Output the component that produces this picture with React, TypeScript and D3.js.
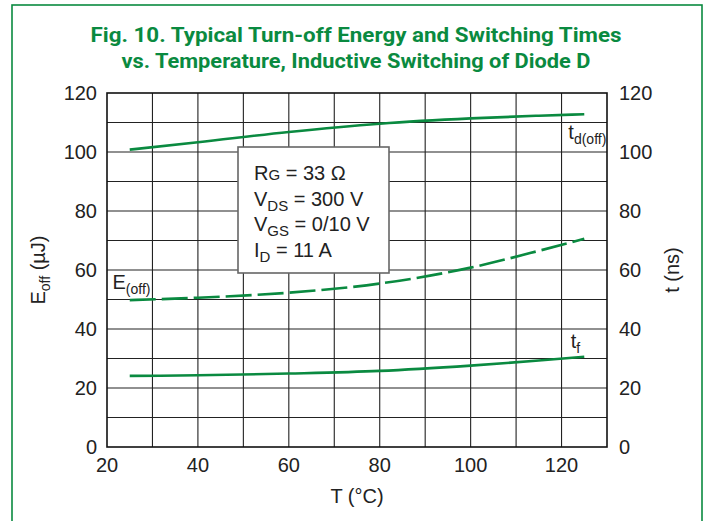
import React, { useRef, useEffect } from 'react';
import * as d3 from 'd3';

// temperature points (°C)
const temps = [25, 40, 60, 80, 100, 115, 125];
// td(off) in ns
const tdOff = [100.8, 103.3, 106.8, 109.6, 111.4, 112.3, 112.8];
// E(off) in µJ (dashed)
const eOff = [49.8, 50.6, 52.3, 55.4, 60.8, 66.5, 70.6];
// tf in ns
const tf = [24.1, 24.3, 24.9, 25.8, 27.6, 29.3, 30.6];

const xTicks = [20, 40, 60, 80, 100, 120];
const yTicks = [0, 20, 40, 60, 80, 100, 120];

const GREEN = '#0a8a40';
const FONT = '"Liberation Sans", Arial, sans-serif';

const App = () => {
  const svgRef = useRef(null);

  useEffect(() => {
    const svg = d3.select(svgRef.current);
    svg.selectAll('*').remove();

    const width = 706;
    const height = 521;
    const m = { left: 107, right: 99, top: 93, bottom: 74 };

    const x = d3.scaleLinear().domain([20, 130]).range([m.left, width - m.right]);
    const y = d3.scaleLinear().domain([0, 120]).range([height - m.bottom, m.top]);

    // frame
    svg.append('rect')
      .attr('x', 12).attr('y', 5)
      .attr('width', 690).attr('height', 530)
      .attr('fill', 'none').attr('stroke', GREEN).attr('stroke-width', 1.6);

    // title
    const title = svg.append('g')
      .attr('fill', GREEN)
      .style('font-family', 'Roboto, sans-serif')
      .style('font-weight', 'bold')
      .style('font-size', '20px');
    title.append('text').attr('x', 356).attr('y', 42)
      .attr('text-anchor', 'middle')
      .attr('textLength', 531).attr('lengthAdjust', 'spacingAndGlyphs')
      .text('Fig. 10. Typical Turn-off Energy and Switching Times');
    title.append('text').attr('x', 356).attr('y', 68)
      .attr('text-anchor', 'middle')
      .attr('textLength', 469).attr('lengthAdjust', 'spacingAndGlyphs')
      .text('vs. Temperature, Inductive Switching of Diode D');

    // grid
    const grid = svg.append('g').attr('stroke', '#222').attr('stroke-width', 1.1);
    d3.range(30, 130, 10).forEach(v => {
      grid.append('line')
        .attr('x1', x(v)).attr('x2', x(v))
        .attr('y1', y(0)).attr('y2', y(120));
    });
    d3.range(10, 120, 10).forEach(v => {
      grid.append('line')
        .attr('x1', x(20)).attr('x2', x(130))
        .attr('y1', y(v)).attr('y2', y(v));
    });
    svg.append('rect')
      .attr('x', x(20)).attr('y', y(120))
      .attr('width', x(130) - x(20)).attr('height', y(0) - y(120))
      .attr('fill', 'none').attr('stroke', '#111').attr('stroke-width', 1.6);

    const txt = svg.append('g')
      .attr('fill', '#222')
      .style('font-family', FONT)
      .style('font-size', '20px');

    // tick labels
    xTicks.forEach(v => {
      txt.append('text').attr('x', x(v)).attr('y', 472)
        .attr('text-anchor', 'middle').text(v);
    });
    yTicks.forEach(v => {
      txt.append('text').attr('x', 97).attr('y', y(v) + 7)
        .attr('text-anchor', 'end').text(v);
      txt.append('text').attr('x', 619).attr('y', y(v) + 7)
        .attr('text-anchor', 'start').text(v);
    });

    // axis titles
    txt.append('text').attr('x', 357).attr('y', 503)
      .attr('text-anchor', 'middle').text('T (°C)');
    const yl = txt.append('text')
      .attr('transform', 'translate(45,270) rotate(-90)')
      .attr('text-anchor', 'middle');
    yl.append('tspan').text('E');
    yl.append('tspan').attr('dy', 5).style('font-size', '14px').text('off');
    yl.append('tspan').attr('dy', -5).text(' (µJ)');
    txt.append('text')
      .attr('transform', 'translate(679,270) rotate(-90)')
      .attr('text-anchor', 'middle').text('t (ns)');

    // curves
    const line = d3.line()
      .x((d, i) => x(temps[i]))
      .y(d => y(d))
      .curve(d3.curveMonotoneX);

    svg.append('path').datum(tdOff).attr('d', line)
      .attr('fill', 'none').attr('stroke', GREEN).attr('stroke-width', 2.6);
    svg.append('path').datum(tf).attr('d', line)
      .attr('fill', 'none').attr('stroke', GREEN).attr('stroke-width', 2.6);
    svg.append('path').datum(eOff).attr('d', line)
      .attr('fill', 'none').attr('stroke', GREEN).attr('stroke-width', 2.6)
      .attr('stroke-dasharray', '26,6');

    // curve labels
    const lab = (xx, yy, main, sub) => {
      const t = txt.append('text').attr('x', xx).attr('y', yy);
      t.append('tspan').text(main);
      t.append('tspan').attr('dy', 5).style('font-size', '14px').text(sub);
    };
    lab(x(21.2), y(53.5), 'E', '(off)');
    lab(x(121.5), y(104.5), 't', 'd(off)');
    lab(x(122), y(33.5), 't', 'f');

    // condition box
    const bx = 238, by = 147;
    svg.append('rect')
      .attr('x', bx).attr('y', by)
      .attr('width', 151).attr('height', 126)
      .attr('fill', '#fff').attr('stroke', '#666').attr('stroke-width', 1.6);
    const boxTxt = svg.append('g')
      .attr('fill', '#222')
      .style('font-family', FONT)
      .style('font-size', '20px');
    const rows = [
      ['R', 'G', ' = 33 Ω', 0],
      ['V', 'DS', ' = 300 V', 5],
      ['V', 'GS', ' = 0/10 V', 5],
      ['I', 'D', ' = 11 A', 5],
    ];
    rows.forEach((r, i) => {
      const t = boxTxt.append('text').attr('x', bx + 16).attr('y', by + 33 + i * 25.5);
      t.append('tspan').text(r[0]);
      t.append('tspan').attr('dy', r[3]).style('font-size', '15px').text(r[1]);
      t.append('tspan').attr('dy', -r[3]).text(r[2]);
    });
  }, []);

  return (
    <svg ref={svgRef} width={706} height={521}
      style={{ position: 'absolute', left: 0, top: 0, background: '#fff' }} />
  );
};

export default App;
